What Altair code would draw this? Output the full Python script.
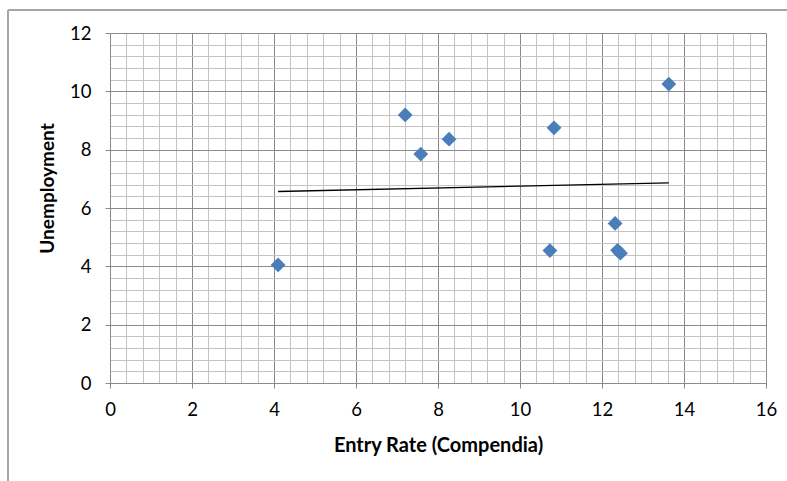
import altair as alt
import pandas as pd

# Data
entry_rate = [4.10, 7.20, 7.58, 8.27, 10.83, 10.73, 12.32, 12.38, 12.45, 13.63]
unemployment = [4.05, 9.19, 7.85, 8.36, 8.75, 4.54, 5.47, 4.55, 4.45, 10.25]

x_ticks = [round(i * 0.4, 1) for i in range(41)]   # 0 .. 16
y_ticks = [round(i * 0.4, 1) for i in range(31)]   # 0 .. 12

df = pd.DataFrame({"x": entry_rate, "y": unemployment})

FONT = "Lato"
MAJOR = "#8a8a8a"
MINOR = "#c4c4c4"
is_major = "datum.value % 2 === 0"

grid_color = {"condition": {"test": is_major, "value": MAJOR}, "value": MINOR}
tick_color = {"condition": {"test": is_major, "value": MAJOR}, "value": "transparent"}
label_expr = f"{is_major} ? format(datum.value, 'd') : ''"

x_axis = alt.Axis(
    values=x_ticks, tickCount=100, labelExpr=label_expr, grid=True, gridColor=grid_color,
    gridWidth=1, tickColor=tick_color, tickSize=5, domainColor=MAJOR,
    labelFont=FONT, labelFontSize=18.5, labelColor="#000", labelPadding=12,
    labelFlush=False, labelOverlap=False,
    title="Entry Rate (Compendia)", titleFont=FONT, titleFontSize=20,
    titleFontWeight="bold", titleColor="#000", titleY=62, titleBaseline="middle",
)
y_axis = alt.Axis(
    values=y_ticks, tickCount=100, labelExpr=label_expr, grid=True, gridColor=grid_color,
    gridWidth=1, tickColor=tick_color, tickSize=5, domainColor=MAJOR,
    labelFont=FONT, labelFontSize=18.5, labelColor="#000", labelPadding=14,
    labelFlush=False, labelOverlap=False,
    title="Unemployment", titleFont=FONT, titleFontSize=19,
    titleFontWeight="bold", titleColor="#000", titleX=-63, titleY=155,
    titleBaseline="middle", titleAngle=270,
)

xs = alt.Scale(domain=[0, 16], nice=False, zero=False)
ys = alt.Scale(domain=[0, 12], nice=False, zero=False)

points = alt.Chart(df).mark_point(
    shape="diamond", filled=True, size=220, color="#4a7ebb", opacity=1
).encode(
    x=alt.X("x:Q", scale=xs, axis=x_axis),
    y=alt.Y("y:Q", scale=ys, axis=y_axis),
)

trend = alt.Chart(df).transform_regression("x", "y").mark_line(
    color="#000000", strokeWidth=1.3
).encode(x=alt.X("x:Q", scale=xs), y=alt.Y("y:Q", scale=ys))

# outer chart frame (top and left edges visible in the reference)
frame_top = alt.Chart(df).mark_rule(color="#a6a6a6", strokeWidth=1.5, clip=False).encode(
    x=alt.value(-102), x2=alt.value(700), y=alt.value(-23)
)
frame_left = alt.Chart(df).mark_rule(color="#a6a6a6", strokeWidth=1.5, clip=False).encode(
    x=alt.value(-102), y=alt.value(-23), y2=alt.value(460)
)

chart = alt.layer(trend, points, frame_top, frame_left).properties(
    width=656, height=350,
    autosize=alt.AutoSizeParams(type="none"),
    padding={"left": 110, "top": 33, "right": 21, "bottom": 98},
    background="white",
).configure_view(stroke=None)

chart.save("out.html", embed_options={"renderer": "svg", "actions": False})
